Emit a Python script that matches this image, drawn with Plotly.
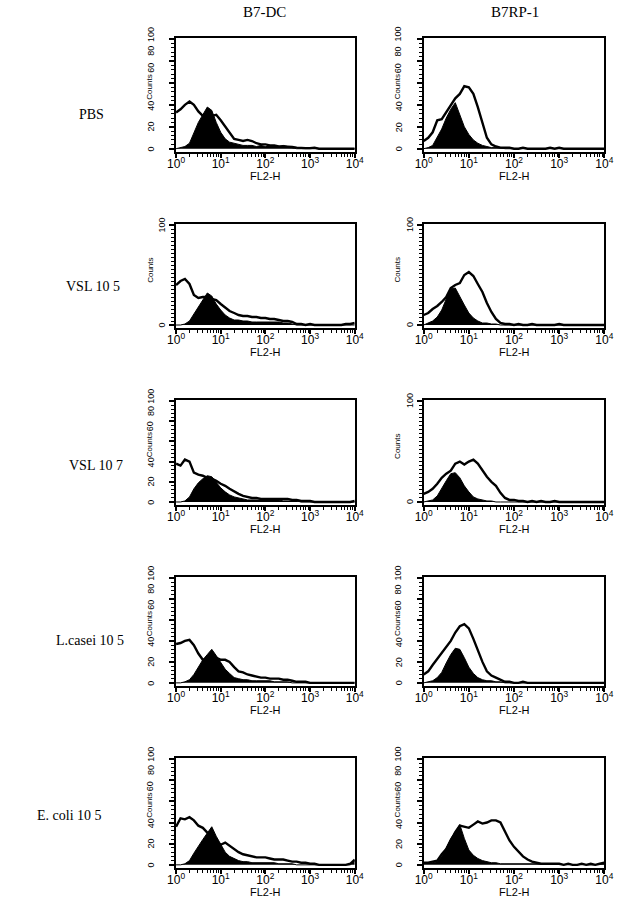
import plotly.graph_objects as go

# ---------------- data ----------------
channel = [1.0, 1.26, 1.58, 2.0, 2.51, 3.16, 3.98, 5.01, 6.31, 7.94,
           10.0, 12.6, 15.8, 20.0, 25.1, 31.6, 39.8, 50.1, 63.1, 79.4,
           100, 126, 158, 200, 251, 316, 398, 501, 631, 794,
           1000, 1259, 1585, 1995, 2512, 3162, 3981, 5012, 6310, 7943, 10000]

markers = ["B7-DC", "B7RP-1"]
treatments = ["PBS", "VSL 10 5", "VSL 10 7", "L.casei 10 5", "E. coli 10 5"]

x_tick_vals = [1, 10, 100, 1000, 10000]
x_tick_text = ["10<sup>0</sup>", "10<sup>1</sup>", "10<sup>2</sup>", "10<sup>3</sup>", "10<sup>4</sup>"]
x_title = "FL2-H"
y_title = "Counts"
y_ticks_full = [0, 20, 40, 60, 80, 100]
y_ticks_sparse = [0, 100]

# PBS
pbs_b7dc_open = [33, 36, 40, 43, 40, 34, 30, 31, 30, 31, 26, 20, 14, 9, 8, 7, 8, 7, 5, 4,
                 4, 3, 3, 2, 2, 2, 1.5, 1, 0.5, 0.5, 0.5, 1, 0, 0, 0, 0, 0, 0, 0, 0, 0]
pbs_b7dc_filled = [0, 1, 2, 5, 14, 24, 31, 38, 35, 24, 15, 9, 6, 5, 4, 3, 3, 3, 2, 3,
                   2, 2, 2, 2, 3, 2, 1, 0, 0, 0, 0, 0, 0, 0, 0, 0, 0, 0, 0, 0, 0]
pbs_b7rp_open = [7, 10, 15, 26, 27, 33, 40, 46, 50, 57, 56, 50, 38, 24, 10, 4, 2, 1, 1, 1,
                 0, 0, 1, 0, 0, 0, 0, 0, 1, 0, 1, 0, 0, 0, 0, 0, 0, 0, 0, 0, 0]
pbs_b7rp_filled = [0, 1, 3, 10, 18, 28, 36, 42, 30, 20, 13, 8, 5, 3, 2, 1, 1, 1, 0, 0,
                   0, 0, 0, 0, 0, 0, 0, 0, 0, 0, 0, 0, 0, 0, 0, 0, 0, 0, 0, 0, 0]
# VSL 10 5
vsl5_b7dc_open = [40, 44, 46, 41, 30, 27, 28, 28, 26, 25, 21, 17, 14, 12, 10, 9, 9, 8, 8, 7,
                  7, 6, 6, 5, 4, 4, 3, 1, 1, 0, 1, 0, 0, 0, 0, 0, 0, 0, 1, 1, 2]
vsl5_b7dc_filled = [0, 0, 1, 4, 11, 18, 25, 32, 29, 21, 15, 10, 7, 5, 5, 4, 4, 3, 3, 3,
                    3, 3, 3, 3, 2, 2, 1, 0, 0, 0, 0, 0, 0, 0, 0, 0, 0, 0, 0, 0, 0]
vsl5_b7rp_open = [10, 12, 16, 19, 23, 28, 37, 40, 42, 50, 53, 49, 41, 33, 22, 13, 6, 2, 1, 1,
                  0, 1, 0, 0, 1, 0, 0, 0, 0, 0, 1, 0, 0, 0, 0, 0, 0, 0, 0, 0, 0]
vsl5_b7rp_filled = [0, 2, 4, 8, 15, 26, 36, 37, 28, 20, 12, 7, 4, 2, 2, 1, 1, 0, 0, 0,
                    0, 0, 0, 0, 0, 0, 0, 0, 0, 0, 0, 0, 0, 0, 0, 0, 0, 0, 0, 0, 0]
# VSL 10 7
vsl7_b7dc_open = [38, 36, 42, 40, 29, 27, 26, 24, 23, 21, 18, 16, 13, 10, 8, 6, 5, 4, 4, 3,
                  3, 3, 3, 3, 3, 3, 2, 2, 1, 1, 1, 0, 0, 0, 0, 0, 0, 0, 0, 0, 1]
vsl7_b7dc_filled = [0, 0, 1, 5, 13, 19, 23, 26, 25, 19, 14, 10, 7, 5, 4, 3, 2, 2, 2, 2,
                    2, 2, 2, 2, 1, 1, 1, 1, 0, 0, 0, 0, 0, 0, 0, 0, 0, 0, 0, 0, 0]
vsl7_b7rp_open = [8, 10, 13, 18, 24, 28, 31, 38, 40, 37, 40, 42, 38, 31, 25, 20, 16, 9, 4, 2,
                  2, 1, 1, 0, 1, 0, 1, 0, 0, 1, 0, 0, 0, 0, 0, 0, 0, 0, 0, 0, 0]
vsl7_b7rp_filled = [0, 1, 2, 6, 14, 21, 28, 29, 24, 16, 10, 5, 3, 2, 1, 1, 0, 0, 0, 0,
                    0, 0, 0, 0, 0, 0, 0, 0, 0, 0, 0, 0, 0, 0, 0, 0, 0, 0, 0, 0, 0]
# L.casei 10 5
lcas_b7dc_open = [37, 38, 40, 41, 36, 28, 22, 23, 24, 24, 22, 22, 20, 15, 11, 10, 8, 7, 6, 5,
                  5, 4, 4, 4, 3, 3, 2, 1, 1, 1, 0, 0, 0, 0, 0, 0, 0, 0, 0, 0, 0]
lcas_b7dc_filled = [0, 0, 1, 3, 8, 15, 22, 27, 32, 26, 19, 13, 9, 5, 4, 3, 3, 2, 2, 2,
                    2, 2, 1, 1, 1, 1, 0, 0, 0, 0, 0, 0, 0, 0, 0, 0, 0, 0, 0, 0, 0]
lcas_b7rp_open = [8, 11, 17, 23, 28, 34, 40, 48, 54, 56, 52, 42, 31, 20, 11, 7, 5, 3, 1, 1,
                  0, 0, 1, 0, 0, 0, 0, 0, 0, 0, 0, 0, 0, 0, 0, 0, 0, 0, 0, 0, 0]
lcas_b7rp_filled = [0, 1, 2, 5, 10, 19, 27, 33, 32, 24, 15, 9, 5, 3, 2, 2, 1, 1, 0, 0,
                    0, 0, 0, 0, 0, 0, 0, 0, 0, 0, 0, 0, 0, 0, 0, 0, 0, 0, 0, 0, 0]
# E. coli 10 5
ecol_b7dc_open = [36, 44, 43, 45, 42, 37, 35, 30, 26, 22, 19, 21, 18, 15, 12, 10, 9, 8, 7, 7,
                  7, 6, 5, 5, 5, 4, 3, 3, 2, 2, 1, 1, 0, 0, 0, 0, 0, 0, 0, 1, 5]
ecol_b7dc_filled = [0, 0, 1, 4, 11, 18, 24, 30, 36, 27, 19, 12, 8, 6, 4, 3, 3, 2, 2, 2,
                    2, 2, 2, 1, 1, 1, 1, 0, 0, 0, 0, 0, 0, 0, 0, 0, 0, 0, 0, 0, 4]
ecol_b7rp_open = [2, 2, 3, 4, 10, 15, 23, 31, 37, 36, 35, 38, 41, 39, 40, 42, 42, 40, 31, 23,
                  17, 12, 8, 5, 3, 2, 1, 1, 1, 1, 1, 0, 1, 0, 0, 1, 0, 1, 0, 1, 2]
ecol_b7rp_filled = [2, 2, 2, 3, 8, 16, 25, 31, 38, 25, 14, 9, 6, 4, 3, 2, 2, 1, 1, 1,
                    1, 1, 1, 1, 1, 1, 1, 1, 1, 1, 1, 0, 1, 0, 0, 1, 0, 0, 0, 1, 1]

open_hist = [[pbs_b7dc_open, pbs_b7rp_open],
             [vsl5_b7dc_open, vsl5_b7rp_open],
             [vsl7_b7dc_open, vsl7_b7rp_open],
             [lcas_b7dc_open, lcas_b7rp_open],
             [ecol_b7dc_open, ecol_b7rp_open]]
filled_hist = [[pbs_b7dc_filled, pbs_b7rp_filled],
               [vsl5_b7dc_filled, vsl5_b7rp_filled],
               [vsl7_b7dc_filled, vsl7_b7rp_filled],
               [lcas_b7dc_filled, lcas_b7rp_filled],
               [ecol_b7dc_filled, ecol_b7rp_filled]]
sparse_panels = [(1, 0), (1, 1), (2, 1)]

# ---------------- layout geometry (page pixels) ----------------
W, H = 624, 902
col_px = [(172, 356), (427, 613)]
row_px = [(38, 152), (224, 328), (400, 505), (577, 686), (758, 868)]
row_label_px = [(85, 115), (86, 287), (90, 465), (83, 640), (62, 815)]
col_title_px = [(263, 12), (521, 12)]

def px_x(p):
    return p / W

def px_y(p):
    return 1 - p / H

FONT = "Liberation Sans, Arial, sans-serif"
NARROW = "Liberation Sans Narrow, Arial Narrow, Liberation Sans, Arial, sans-serif"
SERIF = "Liberation Serif, Times New Roman, serif"

minor_x = [k * 10 ** d for d in range(4) for k in range(2, 10)]

fig = go.Figure()
layout = {}
annotations = []

for r in range(5):
    for c in range(2):
        n = r * 2 + c + 1
        xa = "x" if n == 1 else f"x{n}"
        ya = "y" if n == 1 else f"y{n}"
        xkey = "xaxis" if n == 1 else f"xaxis{n}"
        ykey = "yaxis" if n == 1 else f"yaxis{n}"
        fig.add_trace(go.Scatter(
            x=channel, y=filled_hist[r][c], xaxis=xa, yaxis=ya, mode="lines",
            fill="tozeroy", fillcolor="black", line=dict(color="black", width=1),
            showlegend=False, hoverinfo="skip"))
        fig.add_trace(go.Scatter(
            x=channel, y=open_hist[r][c], xaxis=xa, yaxis=ya, mode="lines",
            line=dict(color="black", width=2.4), showlegend=False, hoverinfo="skip"))

        x0, x1 = col_px[c]
        y0, y1 = row_px[r]
        sparse = (r, c) in sparse_panels
        yt = y_ticks_sparse if sparse else y_ticks_full

        layout[xkey] = dict(
            domain=[px_x(x0), px_x(x1)], anchor=ya, type="log", range=[0, 4],
            tickmode="array", tickvals=x_tick_vals, ticktext=x_tick_text,
            ticks="outside", ticklen=4, tickwidth=1.5, tickcolor="black",
            ticklabelstandoff=-4,
            minor=dict(tickmode="array", tickvals=minor_x, ticks="outside",
                       ticklen=3, tickwidth=1, tickcolor="black", showgrid=False),
            showline=True, linecolor="black", linewidth=2, mirror=True,
            showgrid=False, zeroline=False,
            tickfont=dict(family=FONT, size=12, color="black"))
        layout[ykey] = dict(
            domain=[px_y(y1), px_y(y0)], anchor=xa, range=[-3, 101],
            tickmode="array", tickvals=yt, showticklabels=False,
            ticks="outside", ticklen=5, tickwidth=1.5, tickcolor="black",
            minor=dict(dtick=4, tick0=0, ticks="outside", ticklen=3, tickwidth=1,
                       tickcolor="black", showgrid=False),
            showline=True, linecolor="black", linewidth=2, mirror=True,
            showgrid=False, zeroline=False)

        # y tick labels (upper labels sit a little higher to leave room for "Counts")
        lab_x = x0 - (14 if sparse else 26)
        shifts = {40: -1, 60: 15, 80: 10, 100: 5}
        for v in yt:
            annotations.append(dict(
                x=px_x(lab_x), xref="paper", y=v, yref=ya,
                yshift=(0 if sparse else shifts.get(v, 0)),
                text=str(v), showarrow=False, textangle=-90,
                xanchor="center", yanchor="middle",
                font=dict(family=NARROW, size=9, color="black")))
        # Counts
        annotations.append(dict(
            x=px_x(x0 - 27), xref="paper", y=(55 if sparse else 50), yref=ya,
            yshift=(0 if sparse else 7),
            text=y_title, showarrow=False, textangle=-90,
            xanchor="center", yanchor="middle",
            font=dict(family=NARROW, size=8, color="black")))
        # FL2-H
        annotations.append(dict(
            x=px_x((x0 + x1) / 2), xref="paper", y=px_y(y1 + 24), yref="paper",
            text=x_title, showarrow=False, xanchor="center", yanchor="middle",
            font=dict(family=FONT, size=11, color="black")))

for c in range(2):
    annotations.append(dict(
        x=px_x(col_title_px[c][0]), xref="paper", y=px_y(col_title_px[c][1]), yref="paper",
        text=markers[c], showarrow=False, xanchor="center", yanchor="middle",
        font=dict(family=SERIF, size=15, color="black")))
for r in range(5):
    annotations.append(dict(
        x=px_x(row_label_px[r][0]), xref="paper", y=px_y(row_label_px[r][1]), yref="paper",
        text=treatments[r], showarrow=False, xanchor="center", yanchor="middle",
        font=dict(family=SERIF, size=14, color="black")))

fig.update_layout(
    width=W, height=H, margin=dict(l=0, r=0, t=0, b=0),
    paper_bgcolor="white", plot_bgcolor="white",
    annotations=annotations, showlegend=False, **layout)

# remove the browser's default 8px page margin so the figure fills the window exactly
fig.write_html("out.html", config={"displayModeBar": False},
               post_script="document.body.style.margin='0px';")
